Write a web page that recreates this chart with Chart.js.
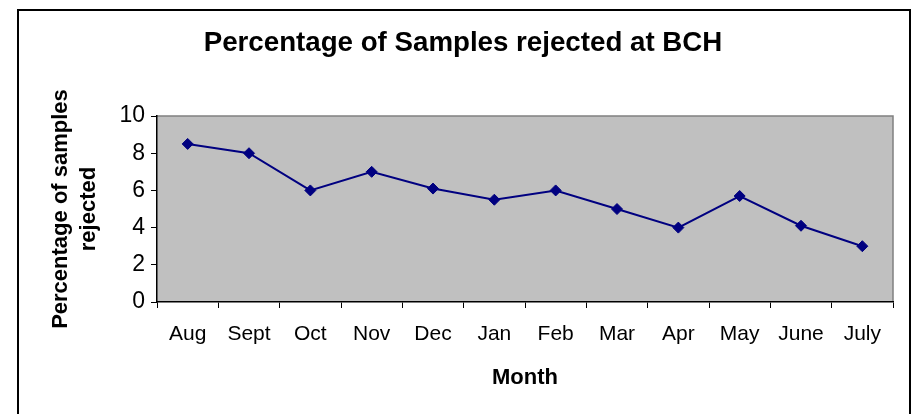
<!DOCTYPE html>
<html>
<head>
<meta charset="utf-8">
<script src="https://cdn.jsdelivr.net/npm/chart.js@4/dist/chart.umd.min.js"></script>
<style>
  html, body { margin: 0; padding: 0; background: #ffffff; }
  #wrap { position: relative; width: 918px; height: 414px; }
</style>
</head>
<body>
<div id="wrap"><canvas id="c" width="918" height="414"></canvas></div>
<script>
const months = ["Aug", "Sept", "Oct", "Nov", "Dec", "Jan", "Feb", "Mar", "Apr", "May", "June", "July"];
const rejectedPct = [8.5, 8.0, 6.0, 7.0, 6.1, 5.5, 6.0, 5.0, 4.0, 5.7, 4.1, 3.0];
const chartTitle = "Percentage of Samples rejected at BCH";
const yTitle = ["Percentage of samples", "rejected"];
const xTitle = "Month";

const FONT = 'Liberation Sans, Arial, sans-serif';

const bgPlugin = {
  id: 'bgPlugin',
  beforeDraw(chart) {
    const ctx = chart.ctx;
    const a = chart.chartArea;
    ctx.save();
    ctx.strokeStyle = '#000000';
    ctx.lineWidth = 2;
    ctx.beginPath();
    ctx.moveTo(18, 414);
    ctx.lineTo(18, 10);
    ctx.lineTo(910, 10);
    ctx.lineTo(910, 414);
    ctx.stroke();
    ctx.fillStyle = '#C0C0C0';
    ctx.fillRect(a.left, a.top, a.right - a.left, a.bottom - a.top);
    ctx.strokeStyle = '#808080';
    ctx.lineWidth = 1.5;
    ctx.beginPath();
    ctx.moveTo(a.left, a.top);
    ctx.lineTo(a.right, a.top);
    ctx.lineTo(a.right, a.bottom);
    ctx.stroke();
    ctx.restore();
  }
};

new Chart(document.getElementById('c'), {
  type: 'line',
  data: {
    labels: months,
    datasets: [{
      data: rejectedPct,
      borderColor: '#000080',
      backgroundColor: '#000080',
      borderWidth: 2,
      pointStyle: 'rectRot',
      pointRadius: 5.5,
      pointBorderWidth: 1,
      pointBackgroundColor: '#000080',
      pointBorderColor: '#000080',
      tension: 0,
      fill: false
    }]
  },
  options: {
    responsive: false,
    devicePixelRatio: 1,
    animation: false,
    layout: { padding: { left: 33, right: 25, top: 0, bottom: 0 } },
    plugins: {
      legend: { display: false },
      tooltip: { enabled: false },
      title: {
        display: true,
        text: chartTitle,
        color: '#000000',
        font: { family: FONT, size: 27.7, weight: 'bold', lineHeight: 1.2 },
        padding: { top: 27, bottom: 55.8 }
      }
    },
    scales: {
      x: {
        offset: true,
        grid: { display: true, offset: true, drawOnChartArea: false, color: '#000000', tickLength: 6, tickWidth: 1 },
        border: { display: true, color: '#000000', width: 1.5 },
        ticks: { color: '#000000', padding: 14, maxRotation: 0, autoSkip: false,
                 font: { family: FONT, size: 21, lineHeight: 1.2 } },
        title: { display: true, text: xTitle, color: '#000000',
                 font: { family: FONT, size: 22, weight: 'bold', lineHeight: 1.2 },
                 padding: { top: 0, bottom: 23 } },
        afterFit(scale) { scale.height = 112; }
      },
      y: {
        min: 0,
        max: 10,
        grid: { display: true, drawOnChartArea: false, color: '#000000', tickLength: 6, tickWidth: 1 },
        border: { display: true, color: '#000000', width: 1.5 },
        ticks: { stepSize: 2, color: '#000000', padding: 6,
                 font: { family: FONT, size: 23 } },
        title: { display: true, text: yTitle, color: '#000000',
                 font: { family: FONT, size: 22, weight: 'bold', lineHeight: 1.27 },
                 padding: { top: 14, bottom: 0 } },
        afterFit(scale) { scale.width = 124; }
      }
    }
  },
  plugins: [bgPlugin]
});
</script>
</body>
</html>
